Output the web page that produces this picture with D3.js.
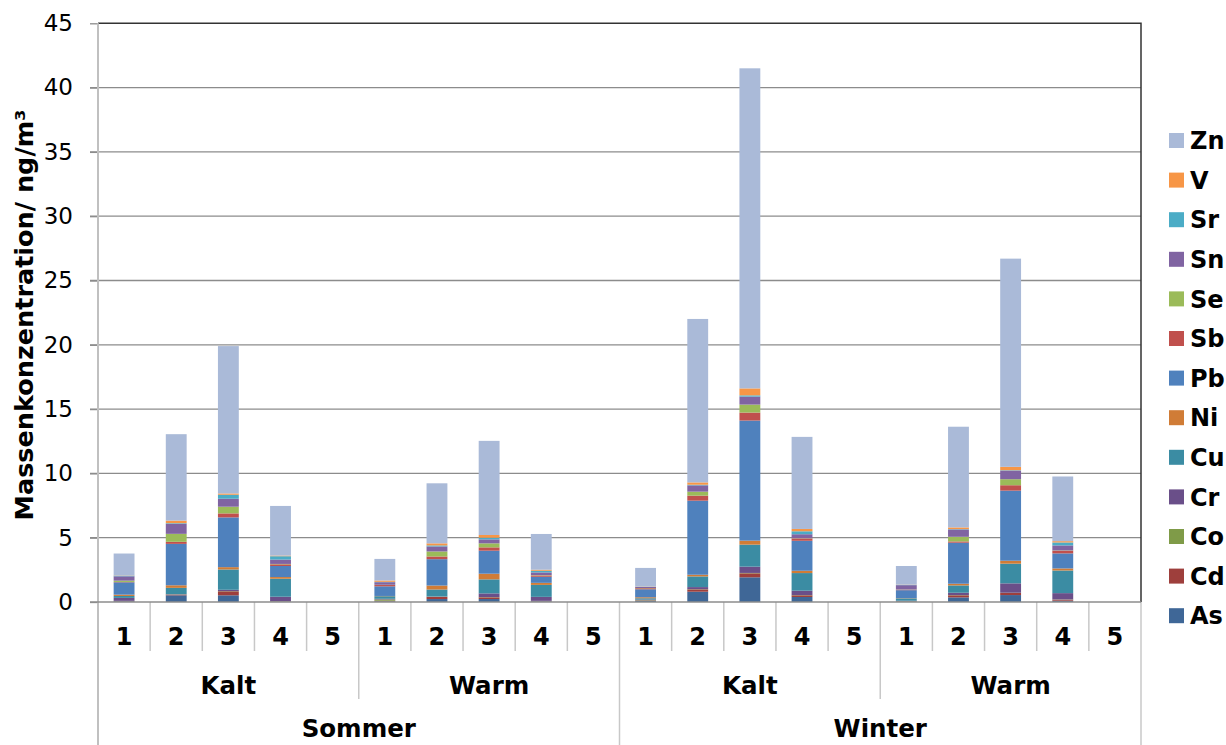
<!DOCTYPE html>
<html>
<head>
<meta charset="utf-8">
<title>Massenkonzentration</title>
<style>
  body { margin: 0; background: #fff; }
  svg text { font-family: Verdana, "DejaVu Sans", sans-serif; fill: #000; }
  .grid line { stroke: #8c8c8c; stroke-width: 1.3px; }
  .cat-line { stroke: #c8c8c8; stroke-width: 1.5px; }
</style>
</head>
<body>
<script src="https://cdnjs.cloudflare.com/ajax/libs/d3/7.8.5/d3.min.js"></script>
<script>

var width = 1226,
    height = 745;

// categories: season / phase / sample number
var seasons = ["Sommer", "Winter"];
var phases = ["Kalt", "Warm"];
var samples = ["1", "2", "3", "4", "5"];

// stacking order, bottom to top
var elements = ["As", "Cd", "Co", "Cr", "Cu", "Ni", "Pb", "Sb", "Se", "Sn", "Sr", "V", "Zn"];
var colors = ["#3f6797", "#9e3f3c", "#7f9b48", "#6a4f89", "#3b8ca3", "#d07c36",
              "#4f81bd", "#c0504d", "#9bbb59", "#8064a2", "#4bacc6", "#f79646", "#aabad8"];

// values in ng/m3, order: Sommer Kalt 1-5, Sommer Warm 1-5, Winter Kalt 1-5, Winter Warm 1-5
var As = [0.05, 0.52, 0.52, 0.03, 0,  0.05, 0.23, 0.23, 0.05, 0,  0.08, 0.80, 1.92, 0.39, 0,  0.03, 0.36, 0.54, 0.10, 0];
var Cd = [0.02, 0.05, 0.31, 0.02, 0,  0.05, 0.16, 0.13, 0.02, 0,  0.03, 0.18, 0.31, 0.13, 0,  0.02, 0.16, 0.16, 0.08, 0];
var Co = [0.02, 0.02, 0.02, 0.02, 0,  0.10, 0.02, 0.02, 0.02, 0,  0.03, 0.02, 0.03, 0.02, 0,  0.02, 0.02, 0.02, 0.02, 0];
var Cr = [0.23, 0.02, 0.10, 0.34, 0,  0.05, 0.02, 0.29, 0.31, 0,  0.05, 0.16, 0.49, 0.34, 0,  0.03, 0.18, 0.73, 0.49, 0];
var Cu = [0.15, 0.49, 1.58, 1.40, 0,  0.20, 0.54, 1.09, 0.93, 0,  0.10, 0.83, 1.71, 1.37, 0,  0.18, 0.57, 1.53, 1.76, 0];
var Ni = [0.10, 0.20, 0.18, 0.13, 0,  0.02, 0.31, 0.44, 0.16, 0,  0.08, 0.13, 0.31, 0.18, 0,  0.02, 0.13, 0.23, 0.16, 0];
var Pb = [0.96, 3.22, 3.87, 0.86, 0,  0.75, 2.05, 1.79, 0.47, 0,  0.62, 5.76, 9.34, 2.33, 0,  0.62, 3.19, 5.45, 1.17, 0];
var Sb = [0.03, 0.16, 0.31, 0.13, 0,  0.10, 0.21, 0.26, 0.10, 0,  0.08, 0.39, 0.62, 0.18, 0,  0.03, 0.10, 0.42, 0.21, 0];
var Se = [0.10, 0.62, 0.52, 0.03, 0,  0.02, 0.39, 0.31, 0.03, 0,  0.02, 0.31, 0.62, 0.02, 0,  0.02, 0.36, 0.47, 0.02, 0];
var Sn = [0.34, 0.78, 0.62, 0.34, 0,  0.20, 0.39, 0.31, 0.21, 0,  0.08, 0.49, 0.62, 0.31, 0,  0.34, 0.57, 0.67, 0.39, 0];
var Sr = [0.05, 0.05, 0.31, 0.26, 0,  0.03, 0.08, 0.13, 0.13, 0,  0.02, 0.05, 0.10, 0.23, 0,  0.02, 0.03, 0.03, 0.23, 0];
var V  = [0.02, 0.20, 0.10, 0.05, 0,  0.10, 0.16, 0.21, 0.08, 0,  0.02, 0.18, 0.54, 0.18, 0,  0.02, 0.13, 0.26, 0.10, 0];
var Zn = [1.70, 6.72, 11.46, 3.86, 0, 1.68, 4.67, 7.32, 2.78, 0,  1.44, 12.71, 24.89, 7.16, 0, 1.45, 7.83, 16.19, 5.03, 0];

var yTicks = [0, 5, 10, 15, 20, 25, 30, 35, 40, 45];
var yTitle = "Massenkonzentration/ ng/m\u00b3";

var series = {As: As, Cd: Cd, Co: Co, Cr: Cr, Cu: Cu, Ni: Ni, Pb: Pb, Sb: Sb, Se: Se, Sn: Sn, Sr: Sr, V: V, Zn: Zn};

// build rows for d3.stack
var rows = [];
seasons.forEach(function (s) {
	phases.forEach(function (p) {
		samples.forEach(function (n) {
			var i = rows.length;
			var r = {key: s + "|" + p + "|" + n, season: s, phase: p, sample: n};
			elements.forEach(function (e) { r[e] = series[e][i]; });
			rows.push(r);
		});
	});
});

var plotLeft = 98, plotRight = 1141, plotTop = 23.3, plotBottom = 602;

var x = d3.scaleBand()
	.domain(rows.map(function (d) { return d.key; }))
	.range([plotLeft, plotRight])
	.paddingInner(0.6)
	.paddingOuter(0.3);

var y = d3.scaleLinear()
	.domain([0, 45])
	.range([plotBottom, plotTop]);

var color = d3.scaleOrdinal().domain(elements).range(colors);

var svg = d3.select("body").append("svg")
	.attr("width", width)
	.attr("height", height);

// gridlines + ticks
var grid = svg.append("g").attr("class", "grid");
grid.selectAll("line")
	.data(yTicks.filter(function (t) { return t > 0 && t < 45; }))
	.enter().append("line")
	.attr("x1", plotLeft - 8).attr("x2", plotRight)
	.attr("y1", function (d) { return y(d); })
	.attr("y2", function (d) { return y(d); });

svg.append("g")
	.attr("transform", "translate(" + plotLeft + ",0)")
	.call(d3.axisLeft(y).tickValues(yTicks).tickSize(8).tickPadding(17))
	.call(function (g) {
		g.select(".domain").remove();
		g.selectAll(".tick line").attr("stroke", "#8c8c8c").attr("stroke-width", 1.3);
		g.selectAll(".tick text")
			.attr("font-family", "Verdana, 'DejaVu Sans', sans-serif")
			.attr("font-size", 23)
			.attr("fill", "#000");
	});

// bars
var stack = d3.stack().keys(elements);
var layers = stack(rows);

svg.append("g").selectAll("g")
	.data(layers)
	.enter().append("g")
	.attr("fill", function (d) { return color(d.key); })
	.selectAll("rect")
	.data(function (d) { return d; })
	.enter().append("rect")
	.attr("x", function (d) { return x(d.data.key); })
	.attr("width", x.bandwidth())
	.attr("y", function (d) { return y(d[1]); })
	.attr("height", function (d) { return Math.max(0, y(d[0]) - y(d[1])); });

// plot border (top + right)
svg.append("path")
	.attr("d", "M" + plotLeft + "," + plotTop + "H" + plotRight + "V" + plotBottom)
	.attr("fill", "none")
	.attr("stroke", "#333")
	.attr("stroke-width", 1.5);

// multi-level category axis
var step = x.step();
function edge(i) { return plotLeft + i * step; }

var cats = svg.append("g");
// separators: sample / phase / season
d3.range(0, rows.length + 1).forEach(function (i) {
	var bottom = 651;
	if (i % 5 === 0) bottom = 699;
	if (i % 10 === 0) bottom = height;
	cats.append("line").attr("class", "cat-line")
		.attr("x1", edge(i)).attr("x2", edge(i))
		.attr("y1", plotBottom).attr("y2", bottom);
});

// left axis line
svg.append("line")
	.attr("x1", plotLeft).attr("x2", plotLeft)
	.attr("y1", plotTop).attr("y2", height)
	.attr("stroke", "#c0c0c0").attr("stroke-width", 2);

// baseline
svg.append("line")
	.attr("x1", plotLeft - 8).attr("x2", plotRight)
	.attr("y1", plotBottom).attr("y2", plotBottom)
	.attr("stroke", "#8c8c8c").attr("stroke-width", 1.5);

cats.selectAll("text.n")
	.data(rows)
	.enter().append("text")
	.attr("class", "n")
	.attr("x", function (d) { return x(d.key) + x.bandwidth() / 2; })
	.attr("y", 637)
	.attr("dy", "0.35em")
	.attr("text-anchor", "middle")
	.attr("font-size", 24).attr("font-weight", "bold")
	.text(function (d) { return d.sample; });

var phaseRows = [];
seasons.forEach(function (s) { phases.forEach(function (p) { phaseRows.push(p); }); });
cats.selectAll("text.p")
	.data(phaseRows)
	.enter().append("text")
	.attr("class", "p")
	.attr("x", function (d, i) { return edge(i * 5 + 2.5); })
	.attr("y", 685)
	.attr("dy", "0.35em")
	.attr("text-anchor", "middle")
	.attr("font-size", 24.5).attr("font-weight", "bold")
	.text(function (d) { return d; });

cats.selectAll("text.s")
	.data(seasons)
	.enter().append("text")
	.attr("class", "s")
	.attr("x", function (d, i) { return edge(i * 10 + 5); })
	.attr("y", 728)
	.attr("dy", "0.35em")
	.attr("text-anchor", "middle")
	.attr("font-size", 24.5).attr("font-weight", "bold")
	.text(function (d) { return d; });

// y title
svg.append("text")
	.attr("transform", "translate(24,315) rotate(-90)")
	.attr("dy", "0.35em")
	.attr("text-anchor", "middle")
	.attr("font-size", 25.5).attr("font-weight", "bold")
	.text(yTitle);

// legend, top entry = last series
var legend = svg.append("g").selectAll("g")
	.data(elements.slice().reverse())
	.enter().append("g")
	.attr("transform", function (d, i) { return "translate(1169," + (140.5 + i * 39.6) + ")"; });

legend.append("rect")
	.attr("y", -7.5)
	.attr("width", 15).attr("height", 15)
	.attr("fill", function (d) { return color(d); });

legend.append("text")
	.attr("x", 21)
	.attr("dy", "0.36em")
	.attr("font-size", 24).attr("font-weight", "bold")
	.text(function (d) { return d; });

</script>
</body>
</html>
